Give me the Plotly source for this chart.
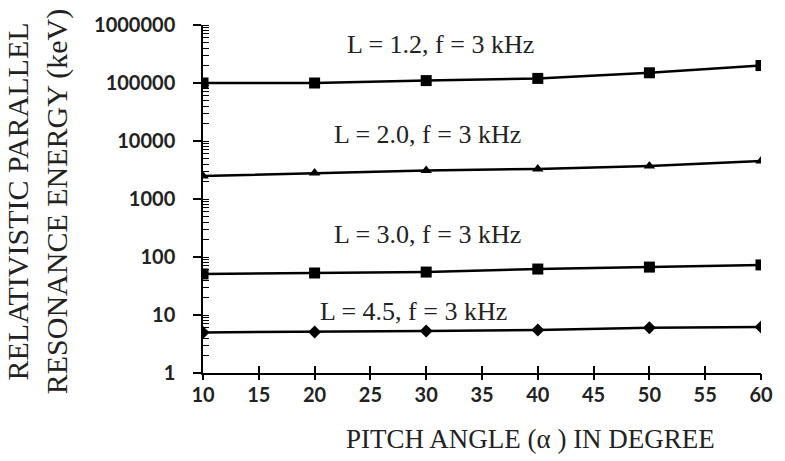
import plotly.graph_objects as go

pitch = [10, 20, 30, 40, 50, 60]
e_L12 = [100000, 100000, 110000, 120000, 150000, 200000]
e_L20 = [2500, 2800, 3100, 3300, 3700, 4500]
e_L30 = [51, 53, 55, 62, 67, 73]
e_L45 = [5.0, 5.1, 5.3, 5.5, 6.0, 6.2]

labels = ["L = 1.2, f = 3 kHz", "L = 2.0, f = 3 kHz", "L = 3.0, f = 3 kHz", "L = 4.5, f = 3 kHz"]
y_ticks = [1, 10, 100, 1000, 10000, 100000, 1000000]
y_ticktext = [str(v) for v in y_ticks]
x_ticks = list(range(10, 61, 5))

fig = go.Figure()
series = [(e_L12, "square", 11), (e_L20, "triangle-up", 10), (e_L30, "square", 11), (e_L45, "diamond", 10)]
for (vals, sym, sz), name in zip(series, labels):
    fig.add_trace(go.Scatter(x=pitch, y=vals, mode="lines+markers", name=name,
                             line=dict(color="black", width=2.5),
                             marker=dict(symbol=sym, size=sz, color="black"),
                             showlegend=False))
# helper trace so the overlay axis (outside half of the crossing x ticks) is drawn
fig.add_trace(go.Scatter(x=[pitch[0]], y=[e_L45[0]], xaxis="x2", mode="markers",
                         marker=dict(opacity=0), showlegend=False, hoverinfo="skip"))

serif = "Liberation Serif"
label_pos = [(443, 42), (430, 132), (430, 233), (416, 311)]
for txt, (px, py) in zip(labels, label_pos):
    fig.add_annotation(text=txt, xref="paper", yref="paper",
                       x=(px - 203) / 564, y=1 - (py - 22) / 351,
                       xanchor="center", yanchor="middle",
                       showarrow=False, font=dict(family=serif, size=26, color="#222"))

fig.add_annotation(text="RELATIVISTIC PARALLEL<br>RESONANCE ENERGY (keV)",
                   xref="paper", yref="paper", x=(36 - 203) / 564, y=1 - (200 - 22) / 351,
                   xanchor="center", yanchor="middle",
                   textangle=-90, showarrow=False,
                   font=dict(family=serif, size=30, color="#222"))
fig.add_annotation(text="PITCH ANGLE (α ) IN DEGREE",
                   xref="paper", yref="paper", x=(534 - 203) / 564, y=1 - (440 - 22) / 351,
                   xanchor="center", yanchor="middle",
                   showarrow=False, font=dict(family=serif, size=27, color="#222"))

tickfont = dict(family="Lato", size=20, color="#222", weight="bold")
fig.update_layout(
    width=785, height=461,
    margin=dict(l=203, r=18, t=22, b=88),
    plot_bgcolor="white", paper_bgcolor="white",
    xaxis=dict(range=[10, 60], tickvals=x_ticks, ticks="inside", ticklen=7,
               tickwidth=1.5, tickcolor="black", showline=True, linecolor="black",
               linewidth=1.5, showgrid=False, zeroline=False, tickfont=tickfont,
               ticklabelstandoff=3),
    xaxis2=dict(range=[10, 60], overlaying="x", anchor="y", side="bottom",
                tickvals=x_ticks, ticks="outside", ticklen=6, tickwidth=1.5,
                tickcolor="black", showticklabels=False, showline=False,
                showgrid=False, zeroline=False),
    yaxis=dict(type="log", range=[0, 6], tickvals=y_ticks, ticktext=y_ticktext,
               ticks="outside", ticklen=8, tickwidth=1.5, tickcolor="black",
               showline=True, linecolor="black", linewidth=1.5, showgrid=False,
               zeroline=False, tickfont=tickfont, ticklabelstandoff=14,
               minor=dict(ticks="inside", ticklen=6, tickcolor="black", tickwidth=1,
                          dtick="D1", showgrid=False)),
)

fig.write_html("out.html")
